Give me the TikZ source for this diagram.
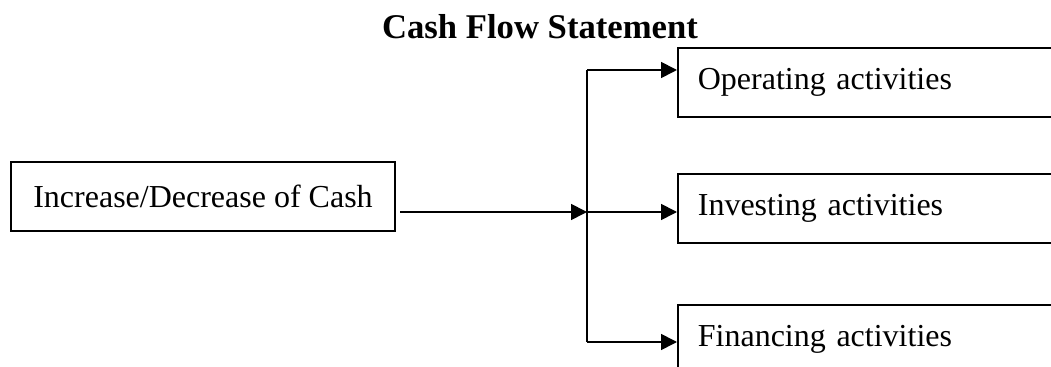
\documentclass[tikz,border=0pt]{standalone}
\usepackage{fontspec}
\setmainfont{Liberation Serif}
\usetikzlibrary{arrows.meta}
\tikzset{
  line/.style={draw=black, line width=1.3pt},
  arr/.style={line, -{Triangle[length=12pt,width=12pt]}},
  box/.style={draw=black, line width=1.3pt, minimum height=51.75pt, inner ysep=0pt,
    font=\fontsize{24}{28}\selectfont},
  rbox/.style={box, anchor=north west, text width=264.75pt, inner xsep=15pt, align=left},
  title/.style={font=\fontsize{26}{30}\selectfont\bfseries, inner sep=0pt, anchor=base}
}
\begin{document}
\begin{tikzpicture}[x=0.75pt,y=-0.75pt]
\useasboundingbox (0,0) rectangle (1051,367);
\clip (0,0) rectangle (1051,367);
\node[title] (ttl) at (540,39) {Cash Flow Statement};
\node[box, minimum width=288pt] (cash) at (203,196.5) {Increase/Decrease of Cash};
\node[rbox] (ops) at (677,47) {Operating activities};
\node[rbox] (inv) at (677,173) {Investing activities};
\node[rbox] (fin) at (677,304) {Financing activities};
\coordinate (hub) at (587,212);
\coordinate (top) at (587,70);
\coordinate (bot) at (587,342);
\coordinate (start) at (400,212);
\draw[arr] (start) -- (hub);
\draw[line] (top) -- (bot);
\draw[arr] (top) -- (ops.west |- top);
\draw[arr] (hub) -- (inv.west |- hub);
\draw[arr] (bot) -- (fin.west |- bot);
\end{tikzpicture}
\end{document}
